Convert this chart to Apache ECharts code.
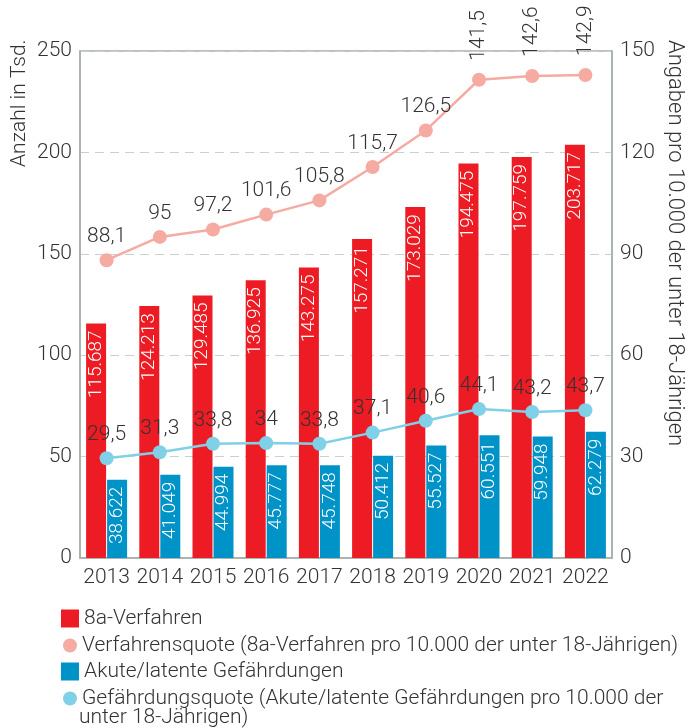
<!DOCTYPE html>
<html>
<head>
<meta charset="utf-8">
<script src="https://cdn.jsdelivr.net/npm/echarts@6/dist/echarts.min.js"></script>
<style>
  html, body { margin: 0; padding: 0; background: #fff; }
  #chart { width: 692px; height: 728px; }
</style>
</head>
<body>
<div id="chart"></div>
<script>
const years = ['2013', '2014', '2015', '2016', '2017', '2018', '2019', '2020', '2021', '2022'];
const verfahren = [115.687, 124.213, 129.485, 136.925, 143.275, 157.271, 173.029, 194.475, 197.759, 203.717];
const gefaehrdungen = [38.622, 41.049, 44.994, 45.777, 45.748, 50.412, 55.527, 60.551, 59.948, 62.279];
const verfahrensquote = [88.1, 95, 97.2, 101.6, 105.8, 115.7, 126.5, 141.5, 142.6, 142.9];
const gefaehrdungsquote = [29.5, 31.3, 33.8, 34, 33.8, 37.1, 40.6, 44.1, 43.2, 43.7];

const FONT = 'Roboto';
const FS = 21;
const TXT = '#333';
const RED = '#ed1c24';
const BLUE = '#0093c8';
const PINK = '#f5aba2';
const LIGHTBLUE = '#80d0e8';

const names = [
  '8a-Verfahren',
  'Verfahrensquote (8a-Verfahren pro 10.000 der unter 18-Jährigen)',
  'Akute/latente Gefährdungen',
  'Gefährdungsquote (Akute/latente Gefährdungen pro 10.000 der',
];

const comma = v => String(v).replace('.', ',');

const barLabel = {
  show: true,
  position: 'insideTop',
  rotate: 90,
  align: 'right',
  verticalAlign: 'middle',
  distance: 7,
  color: '#fff',
  fontFamily: FONT,
  fontWeight: 300,
  fontSize: 19,
  formatter: p => p.value.toFixed(3),
};

const lineLabel = {
  show: true,
  position: 'top',
  distance: 6,
  color: TXT,
  fontFamily: FONT,
  fontWeight: 300,
  fontSize: FS,
  formatter: p => comma(p.value),
};

const legendBase = {
  orient: 'vertical',
  itemGap: 0,
  textStyle: { color: TXT, fontFamily: FONT, fontWeight: 300, fontSize: FS },
  selectedMode: false,
};

const chart = echarts.init(document.getElementById('chart'));
chart.setOption({
  animation: false,
  grid: {
    left: 80, right: 80, top: 51, bottom: 170,
    show: true, borderColor: '#a7afac', borderWidth: 1.5, backgroundColor: 'transparent',
  },
  legend: [
    Object.assign({ data: [names[0]], left: 56, top: 603, itemWidth: 18, itemHeight: 18, icon: 'rect' }, legendBase),
    Object.assign({ data: [names[1]], left: 58, top: 630, itemWidth: 14, itemHeight: 14, icon: 'circle' }, legendBase),
    Object.assign({ data: [names[2]], left: 56, top: 656, itemWidth: 18, itemHeight: 18, icon: 'rect' }, legendBase),
    Object.assign({ data: [names[3]], left: 58, top: 683, itemWidth: 14, itemHeight: 14, icon: 'circle' }, legendBase),
  ],
  graphic: [
    {
      type: 'text', left: 79, top: 707,
      style: { text: 'unter 18-Jährigen)', fill: TXT, font: '300 ' + FS + 'px ' + FONT },
    },
    {
      type: 'text', x: 9, y: 167, rotation: Math.PI / 2,
      style: { text: 'Anzahl in Tsd.', fill: TXT, font: '300 ' + FS + 'px ' + FONT, verticalAlign: 'top' },
    },
    {
      type: 'text', x: 685, y: 40, rotation: -Math.PI / 2,
      style: { text: 'Angaben pro 10.000 der unter 18-Jährigen', fill: TXT, font: '300 22px ' + FONT, verticalAlign: 'top' },
    },
  ],
  xAxis: {
    type: 'category',
    data: years,
    axisLine: { lineStyle: { color: '#a7afac', width: 1.5 } },
    axisTick: { show: false },
    axisLabel: { interval: 0, hideOverlap: false, color: TXT, fontFamily: FONT, fontWeight: 300, fontSize: FS, margin: 9 },
  },
  yAxis: [
    {
      type: 'value', min: 0, max: 250, interval: 50,
      axisLine: { show: true, lineStyle: { color: '#a7afac', width: 1.5 } },
      axisLabel: { color: TXT, fontFamily: FONT, fontWeight: 300, fontSize: FS, margin: 8 },
      splitLine: { lineStyle: { color: '#c9d0cd', type: [9, 6], width: 1.2 } },
    },
    {
      type: 'value', min: 0, max: 150, interval: 30,
      axisLine: { show: true, lineStyle: { color: '#a7afac', width: 1.5 } },
      axisLabel: { color: TXT, fontFamily: FONT, fontWeight: 300, fontSize: FS, margin: 8 },
      splitLine: { show: false },
    },
  ],
  series: [
    {
      name: names[0], type: 'bar', data: verfahren, barWidth: 20, barGap: '5%',
      itemStyle: { color: RED }, label: barLabel, z: 2,
    },
    {
      name: names[2], type: 'bar', data: gefaehrdungen, barWidth: 20, barGap: '5%',
      itemStyle: { color: BLUE }, label: barLabel, z: 2,
    },
    {
      name: names[1], type: 'line', yAxisIndex: 1,
      data: verfahrensquote.map((v, i) => i < 7 ? v : {
        value: v,
        label: { rotate: 90, align: 'left', verticalAlign: 'middle', distance: 12 },
      }),
      symbol: 'circle', symbolSize: 14,
      lineStyle: { color: PINK, width: 2.5 }, itemStyle: { color: PINK },
      label: lineLabel, z: 3,
    },
    {
      name: names[3], type: 'line', yAxisIndex: 1, data: gefaehrdungsquote,
      symbol: 'circle', symbolSize: 14,
      lineStyle: { color: LIGHTBLUE, width: 2.5 }, itemStyle: { color: LIGHTBLUE },
      label: lineLabel, z: 3,
    },
  ],
});
</script>
</body>
</html>
